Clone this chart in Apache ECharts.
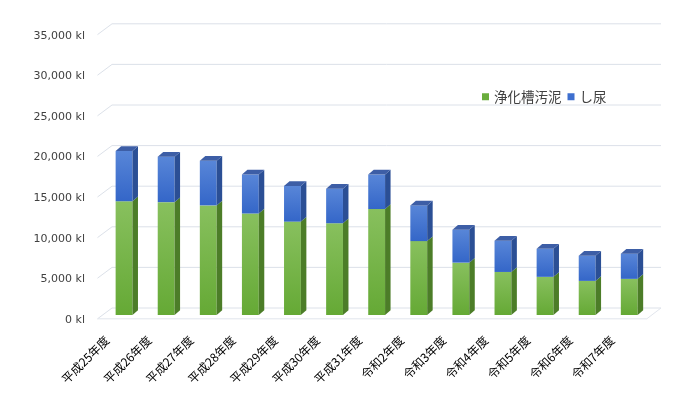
<!DOCTYPE html>
<html>
<head>
<meta charset="utf-8">
<script src="https://cdn.jsdelivr.net/npm/echarts@6/dist/echarts.min.js"></script>
<style>
html,body{margin:0;padding:0;background:#fff;}
#c{width:700px;height:409px;}
</style>
</head>
<body>
<div id="c"></div>
<script>
const categories = ['平成25年度','平成26年度','平成27年度','平成28年度','平成29年度','平成30年度','平成31年度','令和2年度','令和3年度','令和4年度','令和5年度','令和6年度','令和7年度'];
const sludge = [14000, 13900, 13500, 12500, 11500, 11300, 13050, 9100, 6450, 5300, 4700, 4200, 4450];
const nightSoil = [6200, 5600, 5500, 4800, 4400, 4250, 4250, 4400, 4050, 3850, 3450, 3100, 3100];
const yTicks = [0, 5000, 10000, 15000, 20000, 25000, 30000, 35000];
const seriesNames = ['浄化槽汚泥', 'し尿'];

const DX = 5.5, DY = 4.7;
const styles = [
  {front: ['#88c05e', '#65a935'], side: '#4c7d28', top: '#5a8f3a', legend: '#6aad3c'},
  {front: ['#5886d8', '#3466c8'], side: '#2b4f95', top: '#3d5ea6', legend: '#3e6fcf'}
];

function barRenderer(k) {
  return function (params, api) {
    const i = api.value(0), lo = api.value(1), hi = api.value(2);
    const p0 = api.coord([i, lo]);
    const p1 = api.coord([i, hi]);
    const w = api.size([1, 0])[0] * 0.4;
    const x = p0[0] - w / 2;
    const st = styles[k];
    const children = [
      {type: 'rect', shape: {x: x, y: p1[1], width: w, height: p0[1] - p1[1]},
       style: {fill: new echarts.graphic.LinearGradient(0, 0, 0, 1, [{offset: 0, color: st.front[0]}, {offset: 1, color: st.front[1]}])}},
      {type: 'polygon', shape: {points: [[x + w, p1[1]], [x + w + DX, p1[1] - DY], [x + w + DX, p0[1] - DY], [x + w, p0[1]]]},
       style: {fill: st.side}}
    ];
    if (k === 1) {
      children.push({type: 'polygon', shape: {points: [[x, p1[1]], [x + DX, p1[1] - DY], [x + w + DX, p1[1] - DY], [x + w, p1[1]]]},
        style: {fill: st.top}});
    }
    return {type: 'group', children: children};
  };
}

function gridRenderer(params, api) {
  const cs = params.coordSys;
  const y = api.coord([0, api.value(1)])[1];
  const pts = [[cs.x - 5.5, y + 3.8], [cs.x + 9, y - 7], [cs.x + cs.width + 10.7, y - 7]];
  const children = [{type: 'polyline', shape: {points: pts}, style: {stroke: '#dce1e9', lineWidth: 1, fill: null}}];
  if (api.value(1) === 0) {
    children.push({type: 'polyline', shape: {points: [[cs.x - 5.5, y + 3.8], [cs.x + cs.width - 3.5, y + 3.8], [cs.x + cs.width + 10.7, y - 7]]},
      style: {stroke: '#e2e6ed', lineWidth: 1, fill: null}});
  }
  return {type: 'group', children: children};
}

const chart = echarts.init(document.getElementById('c'), null, {renderer: 'canvas'});
chart.setOption({
  animation: false,
  backgroundColor: '#ffffff',
  grid: {left: 103, right: 49.7, top: 30.8, bottom: 94, containLabel: false},
  legend: {
    data: seriesNames,
    left: 477, top: 85,
    icon: 'rect', itemWidth: 7, itemHeight: 7, itemGap: 6,
    textStyle: {fontFamily: 'Noto Sans CJK JP', fontSize: 13.5, color: '#404040'}
  },
  xAxis: {
    type: 'category',
    data: categories,
    axisLine: {show: false},
    axisTick: {show: false},
    axisLabel: {
      rotate: 45, margin: 6, interval: 0,
      fontFamily: 'Noto Sans CJK JP', fontSize: 12, color: '#000000',
      padding: [0, 24, 0, 0]
    }
  },
  yAxis: {
    type: 'value', min: 0, max: 35000, interval: 5000,
    axisLine: {show: false}, axisTick: {show: false}, splitLine: {show: false},
    axisLabel: {
      margin: 18, fontFamily: 'DejaVu Sans', fontSize: 11, color: '#404040',
      verticalAlign: 'top', lineHeight: 10,
      formatter: function (v) { return v.toLocaleString('en-US') + ' kl'; }
    }
  },
  series: [
    {
      type: 'custom', name: 'grid', silent: true, z: 0,
      renderItem: gridRenderer,
      data: yTicks.map(v => [0, v]),
      encode: {x: 0, y: 1}
    },
    {
      type: 'custom', name: seriesNames[0], z: 2,
      itemStyle: {color: styles[0].legend},
      renderItem: barRenderer(0),
      data: sludge.map((v, i) => [i, 0, v]),
      encode: {x: 0, y: [1, 2]}
    },
    {
      type: 'custom', name: seriesNames[1], z: 3,
      itemStyle: {color: styles[1].legend},
      renderItem: barRenderer(1),
      data: nightSoil.map((v, i) => [i, sludge[i], sludge[i] + v]),
      encode: {x: 0, y: [1, 2]}
    }
  ]
});
</script>
</body>
</html>
